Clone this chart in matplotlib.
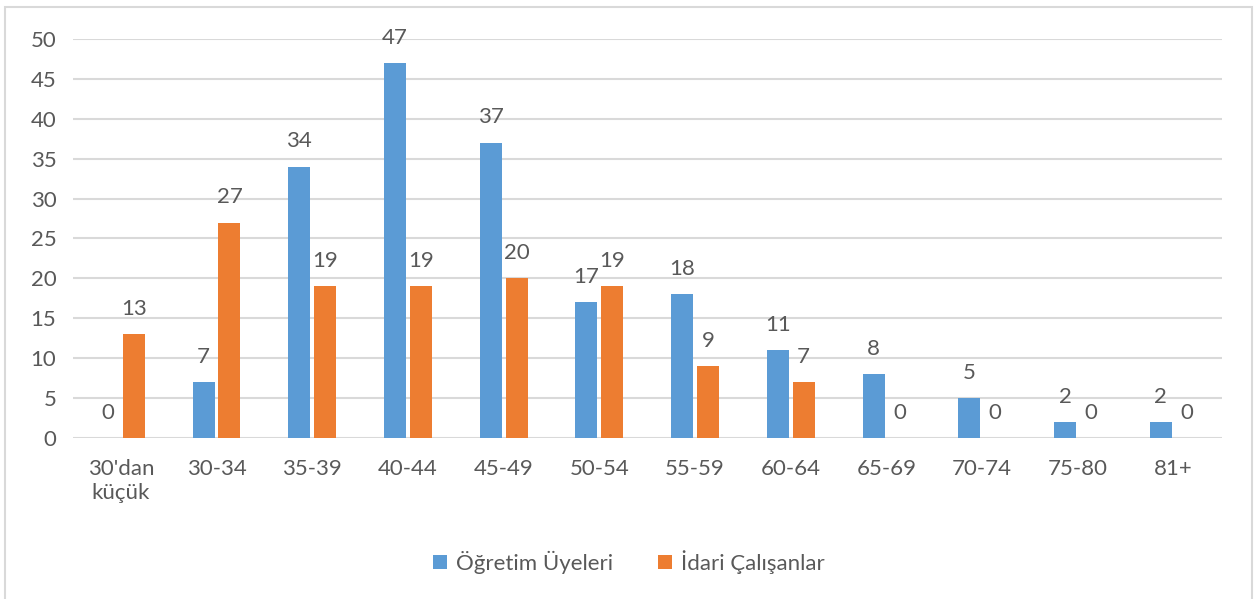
import numpy as np
import matplotlib.pyplot as plt
from matplotlib.patches import Rectangle

categories = ["30'dan\nküçük", "30-34", "35-39", "40-44", "45-49", "50-54",
              "55-59", "60-64", "65-69", "70-74", "75-80", "81+"]
ogretim = [0, 7, 34, 47, 37, 17, 18, 11, 8, 5, 2, 2]
idari = [13, 27, 19, 19, 20, 19, 9, 7, 0, 0, 0, 0]
series_names = ["Öğretim Üyeleri", "İdari Çalışanlar"]

blue = "#5B9BD5"
orange = "#ED7D31"
text_color = "#595959"
grid_color = "#D9D9D9"

plt.rcParams['font.family'] = ['Lato', 'DejaVu Sans']
fs = 16

fig = plt.figure(figsize=(12.58, 5.99), dpi=100)
ax = fig.add_axes([0.058, 0.2688, 0.913, 0.6661])

# cerceve
fig.patches.append(Rectangle((0.004, -0.01), 0.991, 0.998, transform=fig.transFigure,
                             fill=False, edgecolor="#D9D9D9", linewidth=1.5))

x = np.arange(len(categories))
w = 0.23
off = 0.135
b1 = ax.bar(x - off, ogretim, w, color=blue, label=series_names[0], zorder=3)
b2 = ax.bar(x + off, idari, w, color=orange, label=series_names[1], zorder=3)

for bars in (b1, b2):
    for rect in bars:
        h = rect.get_height()
        ax.annotate(f"{int(h)}", (rect.get_x() + rect.get_width() / 2, h),
                    xytext=(0, 11), textcoords="offset points",
                    ha="center", va="bottom", fontsize=fs, color=text_color)

ax.set_xlim(-0.5, len(categories) - 0.5)
ax.set_ylim(0, 50)
ax.set_yticks(range(0, 51, 5))
ax.set_xticks(x)
ax.set_xticklabels(categories)
ax.yaxis.grid(True, color=grid_color, linewidth=1.5, zorder=0)
ax.set_axisbelow(True)
for s in ax.spines.values():
    s.set_visible(False)
ax.tick_params(axis="both", length=0, labelsize=fs, labelcolor=text_color)
ax.tick_params(axis="x", pad=15)
ax.tick_params(axis="y", pad=12)
for lbl in ax.get_xticklabels():
    lbl.set_linespacing(1.25)
    lbl.set_va("top")

ax.legend(loc="center", bbox_to_anchor=(0.5, 0.062), bbox_transform=fig.transFigure,
          ncol=2, frameon=False, fontsize=fs, handlelength=0.65, handleheight=0.65,
          handletextpad=0.4, columnspacing=2.0, labelcolor=text_color)

fig.savefig("out.png", dpi=100)
